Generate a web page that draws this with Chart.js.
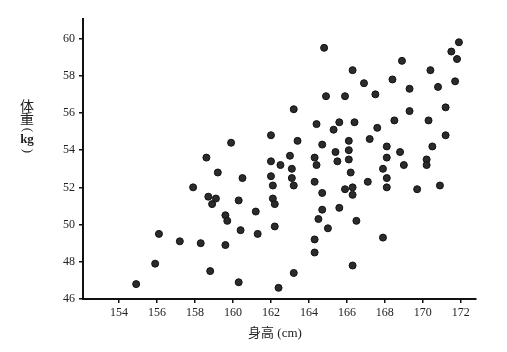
<!DOCTYPE html>
<html lang="zh">
<head>
  <meta charset="UTF-8">
  <title>身高与体重</title>
  <script src="https://cdn.jsdelivr.net/npm/chart.js"></script>
  <style>
    html, body { margin: 0; padding: 0; background: #fff; }
    #wrap { width: 507px; height: 352px; }
  </style>
</head>
<body>
  <div id="wrap"><canvas id="chartCanvas" width="507" height="352"></canvas></div>

  <script>
    // 身高 (cm)
    const heights = [
      154.9, 155.9, 156.1, 157.2, 157.9, 158.3, 158.6, 158.7, 158.8, 158.9,
      159.1, 159.2, 159.6, 159.7, 159.6, 159.9, 160.3, 160.3, 160.4, 160.5,
      161.2, 161.3, 162.0, 162.0, 162.0, 162.1, 162.1, 162.2, 162.2, 162.4,
      162.5, 163.0, 163.1, 163.1, 163.2, 163.2, 163.2, 163.4, 164.3, 164.3,
      164.3, 164.3, 164.4, 164.4, 164.5, 164.7, 164.7, 164.7, 164.8, 164.9,
      165.0, 165.3, 165.4, 165.5, 165.6, 165.6, 165.9, 165.9, 166.1, 166.1,
      166.1, 166.2, 166.3, 166.3, 166.3, 166.3, 166.4, 166.5, 166.9, 167.1,
      167.2, 167.5, 167.6, 167.9, 167.9, 168.1, 168.1, 168.1, 168.1, 168.4,
      168.5, 168.8, 168.9, 169.0, 169.3, 169.3, 169.7, 170.2, 170.2, 170.3,
      170.4, 170.5, 170.8, 170.9, 171.2, 171.2, 171.5, 171.7, 171.8, 171.9
    ];
    // 体重 (kg)
    const weights = [
      46.8, 47.9, 49.5, 49.1, 52.0, 49.0, 53.6, 51.5, 47.5, 51.1,
      51.4, 52.8, 50.5, 50.2, 48.9, 54.4, 51.3, 46.9, 49.7, 52.5,
      50.7, 49.5, 54.8, 53.4, 52.6, 52.1, 51.4, 51.1, 49.9, 46.6,
      53.2, 53.7, 53.0, 52.5, 56.2, 52.1, 47.4, 54.5, 52.3, 53.6,
      49.2, 48.5, 55.4, 53.2, 50.3, 51.7, 50.8, 54.3, 59.5, 56.9,
      49.8, 55.1, 53.9, 53.4, 50.9, 55.5, 56.9, 51.9, 54.0, 54.5,
      53.5, 52.8, 52.0, 51.6, 47.8, 58.3, 55.5, 50.2, 57.6, 52.3,
      54.6, 57.0, 55.2, 53.0, 49.3, 54.2, 53.6, 52.5, 52.0, 57.8,
      55.6, 53.9, 58.8, 53.2, 57.3, 56.1, 51.9, 53.5, 53.2, 55.6,
      58.3, 54.2, 57.4, 52.1, 54.8, 56.3, 59.3, 57.7, 58.9, 59.8
    ];
    const xTicks = [154, 156, 158, 160, 162, 164, 166, 168, 170, 172];
    const yTicks = [46, 48, 50, 52, 54, 56, 58, 60];
    const xTitle = '身高 (cm)';
    const yTitle = ['体', '重', '(', 'kg', ')'];

    const points = heights.map((h, i) => ({ x: h, y: weights[i] }));

    const serif = '"Liberation Serif", "Noto Sans CJK SC", serif';

    // 轴标题：横轴在下方，纵轴竖排（括号转 90 度）
    const titles = {
      id: 'titles',
      afterDraw(chart) {
        const c = chart.ctx;
        c.save();
        c.fillStyle = '#222';
        c.textAlign = 'center';
        c.textBaseline = 'middle';
        c.font = '13px ' + serif;
        c.fillText(xTitle, 275, 334);
        const ys = [107, 120, 130, 140, 151];
        yTitle.forEach((t, i) => {
          if (t === '(' || t === ')') {
            c.save();
            c.translate(27, ys[i]);
            c.rotate(Math.PI / 2);
            c.font = '13px ' + serif;
            c.fillText(t, 0, 0);
            c.restore();
          } else {
            c.font = (t === 'kg' ? 'bold 13px ' : '14px ') + serif;
            c.fillText(t, 27, ys[i]);
          }
        });
        c.restore();
      }
    };

    const ctx = document.getElementById('chartCanvas').getContext('2d');
    new Chart(ctx, {
      type: 'scatter',
      data: {
        datasets: [{
          data: points,
          backgroundColor: '#2b2b2b',
          borderColor: '#111',
          borderWidth: 1,
          pointRadius: 3.5,
          pointHoverRadius: 3.5
        }]
      },
      options: {
        responsive: false,
        animation: false,
        layout: { padding: { left: 43, top: 19, right: 31, bottom: 0 } },
        plugins: { legend: { display: false }, tooltip: { enabled: false } },
        scales: {
          x: {
            type: 'linear',
            min: 152.1,
            max: 172.8,
            afterFit(scale) { scale.height = 53; },
            afterBuildTicks(scale) { scale.ticks = xTicks.map(v => ({ value: v })); },
            border: { color: '#111', width: 2 },
            grid: { drawOnChartArea: false, tickLength: 4, color: '#111', lineWidth: 1.5 },
            ticks: { padding: 3, color: '#222', font: { family: serif, size: 12 }, maxRotation: 0 }
          },
          y: {
            type: 'linear',
            min: 46,
            max: 61.05,
            afterFit(scale) { scale.width = 40; },
            afterBuildTicks(scale) { scale.ticks = yTicks.map(v => ({ value: v })); },
            border: { color: '#111', width: 2 },
            grid: { drawOnChartArea: false, tickLength: 4, color: '#111', lineWidth: 1.5 },
            ticks: { padding: 4, color: '#222', font: { family: serif, size: 12 } }
          }
        }
      },
      plugins: [titles]
    });
  </script>
</body>
</html>
